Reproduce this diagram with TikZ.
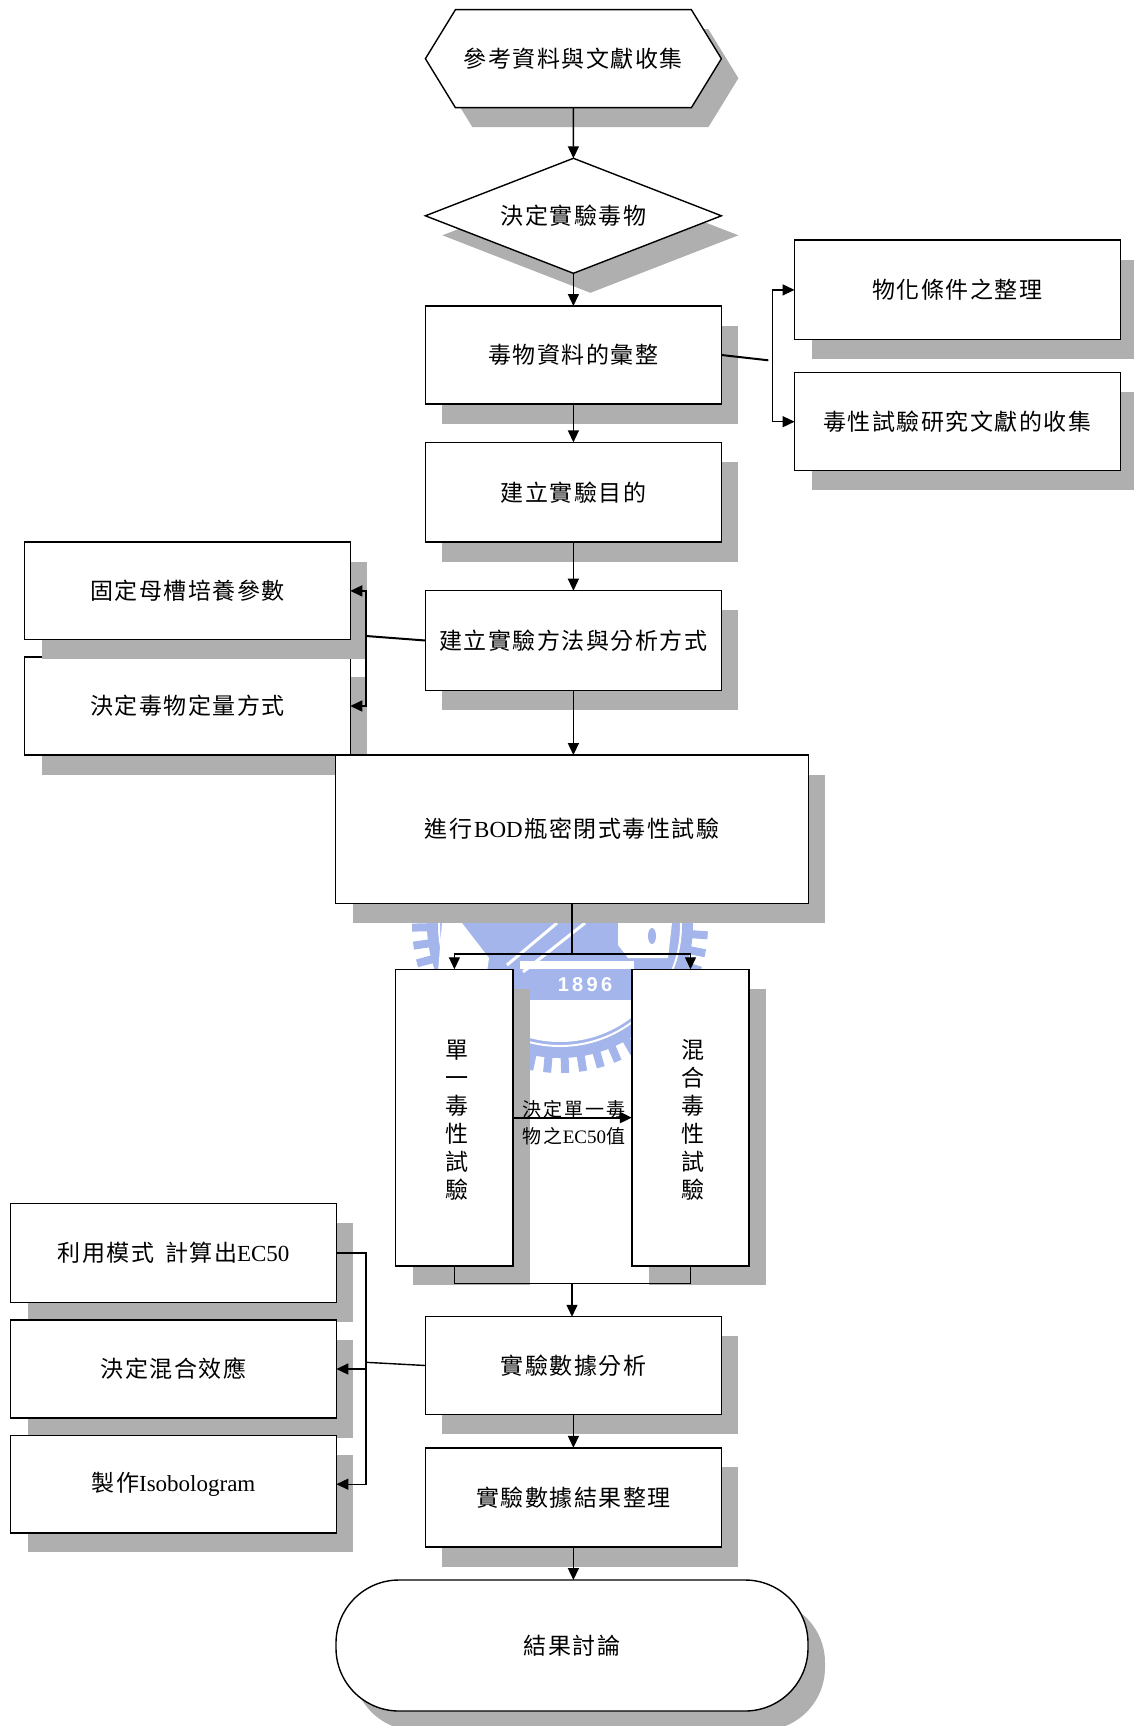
\documentclass[tikz,border=0pt]{standalone}
\usepackage{fontspec}
\usepackage{tikz}
\usetikzlibrary{arrows.meta, positioning, shapes.geometric, shapes.symbols, shadows}
\setmainfont{Liberation Serif}
\setsansfont{Liberation Sans}
\newfontfamily\cjk[LetterSpace=6.5]{Noto Sans CJK TC}
\newfontfamily\cjklabel[LetterSpace=10]{Noto Sans CJK TC}
\definecolor{shadegray}{HTML}{AFAFAF}
\definecolor{markblue}{HTML}{A3B5EB}

\begin{document}
\begin{tikzpicture}[
    x=1pt, y=-1pt,
    outline/.style={draw, line width=1.4pt, fill=white, outer sep=0pt, inner sep=0pt, align=center,
        font=\cjk\fontsize{23}{28}\selectfont,
        drop shadow={shadow xshift=17pt, shadow yshift=-19.5pt, fill=shadegray, opacity=1}},
    stepbox/.style={outline, rectangle, minimum width=296pt, minimum height=98pt},
    sidebox/.style={outline, rectangle, minimum width=325.7pt, minimum height=98pt},
    tallbox/.style={outline, rectangle, minimum width=117.3pt, minimum height=296.7pt},
    talltext/.style={font=\cjk\fontsize{23}{28}\selectfont, align=center, inner sep=0pt, xshift=2.5pt, yshift=-2.5pt},
    wirestyle/.style={line width=1.4pt},
    arrowstyle/.style={wirestyle, -{Triangle[length=12pt, width=11pt]}}
]
    \useasboundingbox (0,0) rectangle (1134,1726);

    % watermark
    \begin{scope}[shift={(560,925)}]
        \foreach \ang in {-10,-3,...,190}
            \draw[markblue, line width=8pt] (\ang:130) -- (\ang:148);
        \fill[markblue] (0,0) circle (133);
        \draw[white, line width=2pt] (0,0) circle (121);
        \begin{scope}
            \clip (-140,75) rectangle (140,140);
            \fill[white] (0,0) circle (117);
        \end{scope}
    \end{scope}
    \fill[white] (442,923) -- (462,923) -- (489,958) -- (487,972) -- (438,972) -- cycle;
    \fill[white] (618,923) -- (672,923) -- (668,958) -- (628,958) -- (618,945) -- cycle;
    \fill[markblue] (652,936) ellipse (4 and 8);
    \fill[white] (520,961) rectangle (634,969);
    \draw[white, line width=3pt] (507,965) -- (557,923);
    \draw[white, line width=3pt] (523,972) -- (585,923);
    \node[white, font=\sffamily\bfseries\fontsize{20}{20}\selectfont] (markyear) at (585,985) {1\,8\,9\,6};

    % top column
    \node[outline, signal, signal to=west and east, signal pointer angle=117,
        minimum width=296pt, minimum height=98pt] (collect) at (573.4,58.7) {參考資料與文獻收集};
    \node[outline, diamond, aspect=2.574, minimum width=296pt, minimum height=115pt] (choose) at (573.4,215.8) {決定實驗毒物};
    \node[stepbox] (toxdata) at (573.4,355) {毒物資料的彙整};
    \node[stepbox, minimum height=99.7pt] (goal) at (573.4,492.2) {建立實驗目的};
    \node[stepbox, minimum height=99.6pt] (method) at (573.4,640.5) {建立實驗方法與分析方式};

    % right side
    \node[sidebox, minimum height=99.7pt] (physchem) at (957.4,289.9) {物化條件之整理};
    \node[sidebox] (toxlit) at (957.4,421.7) {毒性試驗研究文獻的收集};

    % left side, upper
    \node[sidebox] (quant) at (187.4,706) {決定毒物定量方式};
    \node[sidebox, minimum height=97.7pt] (fixed) at (187.4,590.9) {固定母槽培養參數};

    % middle
    \node[outline, minimum width=472.5pt, minimum height=148.3pt] (bodtest) at (572,829.2)
        {進行\hspace{2pt}{\rmfamily BOD}\hspace{2pt}瓶密閉式毒性試驗};
    \node[tallbox, label={[talltext, name=singletext]center:單\\一\\毒\\性\\試\\驗}] (single) at (454.4,1117.6) {};
    \node[tallbox, label={[talltext, name=mixedtext]center:混\\合\\毒\\性\\試\\驗}] (mixed) at (690.5,1117.6) {};
    \node[font=\cjklabel\fontsize{19}{27}\selectfont, align=center, inner sep=0pt] (decideec) at (574,1123)
        {決定單一毒\\物之{\rmfamily EC50}值};

    % bottom column
    \node[stepbox, minimum height=97.5pt] (analysis) at (573.4,1365.5) {實驗數據分析};
    \node[stepbox, minimum height=99.2pt] (results) at (573.4,1497.4) {實驗數據結果整理};
    \node[outline, rectangle, rounded corners=63pt, minimum width=472pt, minimum height=131pt] (discuss) at (572,1645.5) {結果討論};

    % left side, lower
    \node[sidebox, minimum height=99.5pt] (model) at (173.5,1253) {利用模式\hspace{11pt}計算出{\rmfamily EC50}};
    \node[sidebox] (mixeffect) at (173.5,1369) {決定混合效應};
    \node[sidebox, minimum height=97.5pt] (isobol) at (173.5,1484.2) {製作{\rmfamily Isobologram}};

    % free ends of the wires
    \coordinate (rightstem) at (768.3,360.3);
    \coordinate (rightbus) at (772.7,355);
    \coordinate (leftstem) at (366,636);
    \coordinate (fork) at (572,954);
    \coordinate (joint) at (572,1283.7);
    \coordinate (lowstem) at (365.8,1362.3);

    % wires
    \draw[arrowstyle] (collect) -- (choose);
    \draw[arrowstyle] (choose) -- (toxdata);
    \draw[arrowstyle] (toxdata) -- (goal);
    \draw[arrowstyle] (goal) -- (method);
    \draw[arrowstyle] (method) -- (bodtest.north -| method);

    \draw[wirestyle, line width=2pt] (toxdata.east) -- (rightstem);
    \draw[arrowstyle] (rightbus) |- (physchem.west);
    \draw[arrowstyle] (rightbus) |- (toxlit.west);

    \draw[wirestyle, line width=2pt] (method.west) -- (leftstem);
    \draw[arrowstyle] (leftstem) |- (fixed.east);
    \draw[arrowstyle] (leftstem) |- (quant.east);

    \draw[wirestyle] (bodtest) -- (fork);
    \draw[arrowstyle] (fork) -| (single.north);
    \draw[arrowstyle] (fork) -| (mixed.north);
    \draw[arrowstyle, line width=2pt] (single) -- (mixed);

    \draw[wirestyle] (single.south) |- (joint);
    \draw[wirestyle] (mixed.south) |- (joint);
    \draw[arrowstyle] (joint) -- (joint |- analysis.north);
    \draw[arrowstyle] (analysis) -- (results);
    \draw[arrowstyle] (results) -- (results.south |- discuss.north);

    \draw[wirestyle] (analysis.west) -- (lowstem);
    \draw[arrowstyle] (model.east) -- (lowstem |- model.east) -- (lowstem |- isobol.east) -- (isobol.east);
    \draw[arrowstyle] (lowstem |- mixeffect.east) -- (mixeffect.east);
\end{tikzpicture}
\end{document}
